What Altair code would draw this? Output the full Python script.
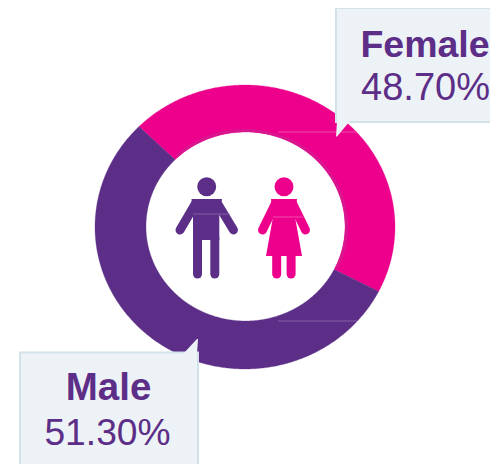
import math
import altair as alt
import pandas as pd

PURPLE = "#5c2e87"
PINK = "#ec008c"
BOX = "#edf2f6"
EDGE = "#d3e1e9"

# Arc shares as drawn in the picture (the printed labels are kept separately).
series = ["Female", "Male"]
arc_share = [45.0, 55.0]
arc_colors = [PINK, PURPLE]
start_deg = -45.0
# The ring in the picture is stretched horizontally, so it is an ellipse.
outer_ring = (245.0, 227.0, 150.0, 142.0)
inner_ring = (245.5, 226.5, 99.5, 94.5)

labels_bold = ["Female", "Male"]
labels_pct = ["48.70%", "51.30%"]

X = alt.Scale(domain=[8, 490], range=[0, 482], nice=False, zero=False)
Y = alt.Scale(domain=[8, 464], range=[0, 456], nice=False, zero=False)


def xe(f="x"):
    return alt.X(f"{f}:Q", scale=X, axis=None)


def ye(f="y"):
    return alt.Y(f"{f}:Q", scale=Y, axis=None)


def ring_point(ring, deg):
    cx, cy, rx, ry = ring
    a = math.radians(deg)
    return cx + rx * math.sin(a), cy - ry * math.cos(a)


def sector(a0, a1, color):
    steps = max(2, int((a1 - a0) * 2))
    angles = [a0 + (a1 - a0) * k / steps for k in range(steps + 1)]
    pts = [ring_point(outer_ring, a) for a in angles]
    pts += [ring_point(inner_ring, a) for a in reversed(angles)]
    df = pd.DataFrame({"x": [p[0] for p in pts], "y": [p[1] for p in pts], "i": range(len(pts))})
    return alt.Chart(df).mark_line(
        fill=color, stroke=color, strokeWidth=0.3, interpolate="linear-closed"
    ).encode(x=xe(), y=ye(), order=alt.Order("i:Q"))


sectors = []
edge = start_deg
spans = []
for share, color in zip(arc_share, arc_colors):
    next_edge = edge + share * 3.6
    sectors.append(sector(edge, next_edge, color))
    spans.append((edge, next_edge))
    edge = next_edge

# Darker band along the inner edge of the pink sector
a0, a1 = spans[0]
band_pts = [ring_point((245.5, 226.5, 101.0, 96.0), a0 + 2 + (a1 - a0 - 3) * k / 80) for k in range(81)]
band = alt.Chart(pd.DataFrame({
    "x": [p[0] for p in band_pts], "y": [p[1] for p in band_pts], "i": range(81),
})).mark_line(stroke="#d8178f", strokeWidth=3).encode(x=xe(), y=ye(), order=alt.Order("i:Q"))

# Figures: heads
heads = alt.Chart(pd.DataFrame({
    "x": [206.7, 284], "y": [186.7, 186.7], "color": [PURPLE, PINK],
})).mark_point(filled=True, size=360, opacity=1).encode(
    x=xe(), y=ye(), color=alt.Color("color:N", scale=None))

# Figures: arms and legs
limb_x = [195.5, 217.5, 197.5, 214.8, 275.5, 292.5, 276.7, 291.1]
limb_y = [203.5, 203.5, 238, 238, 203.5, 203.5, 250, 250]
limb_x2 = [180, 233.5, 197.5, 214.8, 262.5, 305.5, 276.7, 291.1]
limb_y2 = [230, 230, 274, 274, 230, 230, 274, 274]
limb_col = [PURPLE] * 4 + [PINK] * 4
limbs = alt.Chart(pd.DataFrame({
    "x": limb_x, "y": limb_y, "x2": limb_x2, "y2": limb_y2, "color": limb_col,
})).mark_rule(strokeWidth=9, strokeCap="round").encode(
    x=xe(), y=ye(), x2="x2:Q", y2="y2:Q", color=alt.Color("color:N", scale=None))

# Figures: male torso, female body
body_df = pd.DataFrame({
    "who": ["m", "m", "m", "m", "f", "f", "f", "f"],
    "y": [199, 215, 215, 240, 199, 217, 217, 256],
    "x": [191.5, 193, 193, 193, 271, 273, 273, 266],
    "x2": [222, 219.3, 219.3, 219.3, 297, 295, 295, 302],
    "color": [PURPLE] * 4 + [PINK] * 4,
})
bodies = alt.Chart(body_df).mark_area(orient="horizontal", opacity=1).encode(
    y=ye(), x=xe(), x2="x2:Q", detail="who:N",
    color=alt.Color("color:N", scale=None))

# Faint seams visible in the picture
seam_x = [278, 278, 193, 273]
seam_x2 = [357, 357, 230, 303]
seam_y = [132, 321, 214, 217]
seam_col = ["#f45fae", "#8d6bab", "#8d6bab", "#f45fae"]
seams = alt.Chart(pd.DataFrame({
    "x": seam_x, "x2": seam_x2, "y": seam_y, "color": seam_col,
})).mark_rule(strokeWidth=0.8).encode(
    x=xe(), x2="x2:Q", y=ye(), color=alt.Color("color:N", scale=None))

# Callouts
box_df = pd.DataFrame({
    "x": [336, 20], "x2": [506, 198], "y": [8, 352.5], "y2": [122, 480],
})
boxes = alt.Chart(box_df).mark_rect(fill=BOX, stroke=EDGE, strokeWidth=2).encode(
    x=xe(), x2="x2:Q", y=ye(), y2="y2:Q")

tail_df = pd.DataFrame({
    "who": ["f", "f", "m", "m"],
    "y": [121, 136.5, 339, 354],
    "x": [337, 336, 197, 183],
    "x2": [350, 337, 198, 197],
})
tails = alt.Chart(tail_df).mark_area(orient="horizontal", color=BOX, opacity=1).encode(
    y=ye(), x=xe(), x2="x2:Q", detail="who:N")


def label(text, x, y, size, weight):
    df = pd.DataFrame({"t": [text], "x": [x], "y": [y]})
    return alt.Chart(df).mark_text(
        font="Liberation Sans", fontWeight=weight, fontSize=size, color=PURPLE,
        align="center", baseline="alphabetic",
    ).encode(x=xe(), y=ye(), text="t:N")


texts = [
    label(labels_bold[0], 425, 57, 37.5, "bold"),
    label(labels_pct[0], 425.5, 100, 38, "normal"),
    label(labels_bold[1], 108.5, 400, 38.5, "bold"),
    label(labels_pct[1], 107.5, 445, 37.2, "normal"),
]

chart = alt.layer(
    *sectors, band, limbs, bodies, heads, seams, boxes, tails, *texts
).properties(
    width=482, height=456, padding=0,
    autosize=alt.AutoSizeParams(type="none"),
).configure_view(stroke=None)

chart.save("out.html", embed_options={"renderer": "svg", "actions": False})
